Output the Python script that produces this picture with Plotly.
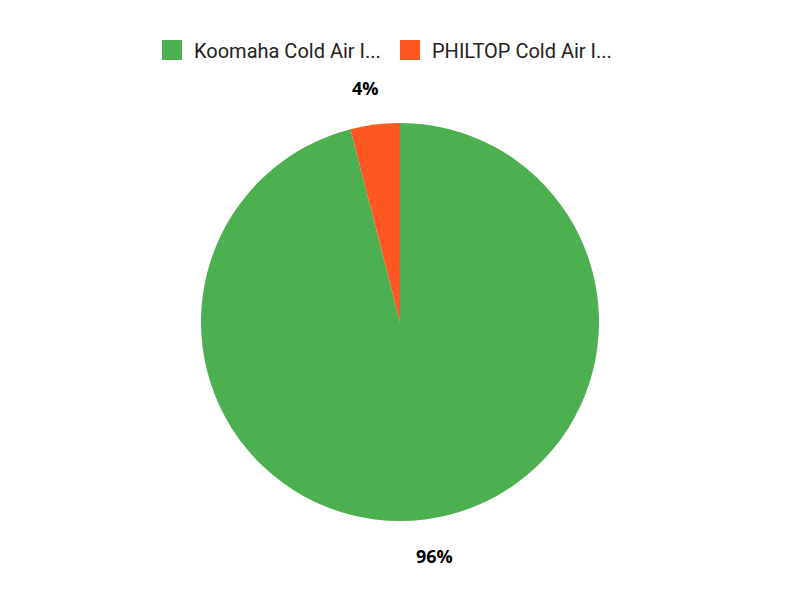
import math
import plotly.graph_objects as go

labels = ["Koomaha Cold Air I...", "PHILTOP Cold Air I..."]
values = [96, 4]
colors = ["#4CAF50", "#FF5722"]

W, H = 800, 600
# page body adds an 8px offset, so work in paper pixels shifted by it
dom_x = [0, 784 / W]
dom_y = [1 - 513 / H, 1 - 115 / H]

fig = go.Figure()
fig.add_trace(go.Pie(
    labels=labels,
    values=values,
    sort=False,
    direction="clockwise",
    rotation=0,
    marker=dict(colors=colors, line=dict(width=0)),
    textinfo="none",
    showlegend=False,
    domain=dict(x=dom_x, y=dom_y),
    hoverinfo="label+percent",
))

# legend entries with big square swatches
for lab, col in zip(labels, colors):
    fig.add_trace(go.Scatter(
        x=[None], y=[None], mode="markers", name=lab,
        marker=dict(symbol="square", size=20, color=col,
                    line=dict(width=4, color=col)),
        hoverinfo="skip",
    ))

# percentage labels placed outside the slices
total = sum(values)
cx = (dom_x[0] + dom_x[1]) / 2 * W
cy = (1 - (dom_y[0] + dom_y[1]) / 2) * H
R = (dom_y[1] - dom_y[0]) * H / 2
rl = R * 1.19
cum = 0
for v in values:
    th = 2 * math.pi * (cum + v / 2) / total - 0.02
    cum += v
    px = cx + rl * math.sin(th)
    py = cy - rl * math.cos(th)
    fig.add_annotation(
        x=px / W, y=1 - py / H, xref="paper", yref="paper",
        text="<b>%d%%</b>" % round(100 * v / total),
        showarrow=False, xanchor="center", yanchor="middle",
        font=dict(family="Open Sans", size=18, color="#000000"),
    )

fig.update_layout(
    width=W,
    height=H,
    paper_bgcolor="white",
    plot_bgcolor="white",
    font=dict(family="Roboto", size=20, color="#222222"),
    margin=dict(l=0, r=0, t=0, b=0),
    xaxis=dict(visible=False),
    yaxis=dict(visible=False),
    legend=dict(
        orientation="h",
        x=142 / W, xanchor="left",
        y=1 - 42 / H, yanchor="middle",
        font=dict(family="Roboto", size=20, color="#222222"),
        itemsizing="trace",
        itemwidth=34,
        entrywidth=189,
    ),
)

fig.write_html("out.html")
